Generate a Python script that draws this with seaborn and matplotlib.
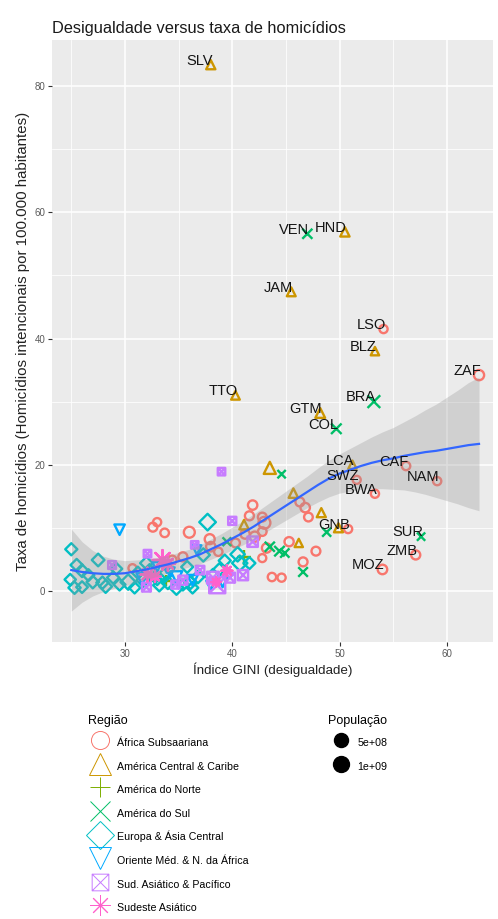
import numpy as np
import pandas as pd
import matplotlib
matplotlib.use("Agg")
import matplotlib.pyplot as plt
from matplotlib.path import Path
from matplotlib.lines import Line2D
from matplotlib.colors import PowerNorm
import seaborn as sns

# regions (legend order) and ggplot hue colours
regions = ["África Subsaariana", "América Central & Caribe", "América do Norte",
           "América do Sul", "Europa & Ásia Central", "Oriente Méd. & N. da África",
           "Sud. Asiático & Pacífico", "Sudeste Asiático"]
region_colors = ["#F8766D", "#CD9600", "#7CAE00", "#00BE67",
                 "#00BFC4", "#00A9FF", "#C77CFF", "#FF61CC"]

# countries with a text label
lab_code = ["SLV", "VEN", "HND", "JAM", "LSO", "BLZ", "ZAF", "TTO", "BRA", "GTM",
            "COL", "LCA", "CAF", "SWZ", "NAM", "BWA", "GNB", "SUR", "ZMB", "MOZ"]
lab_region = [1, 3, 1, 1, 0, 1, 0, 1, 3, 1, 3, 1, 0, 0, 0, 0, 0, 3, 0, 0]
lab_gini = [38.0, 47.0, 50.5, 45.5, 54.1, 53.3, 63.0, 40.3, 53.2, 48.2,
            49.7, 51.2, 56.2, 51.6, 59.1, 53.3, 50.8, 57.6, 57.1, 54.0]
lab_homic = [83.4, 56.6, 56.9, 47.4, 41.5, 38.0, 34.2, 31.0, 30.0, 28.2,
             25.7, 20.0, 19.8, 17.6, 17.4, 15.4, 9.8, 8.6, 5.7, 3.4]
lab_pop = [6.3e6, 31e6, 8.1e6, 2.7e6, 2.1e6, 0.36e6, 55e6, 1.4e6, 206e6, 16e6,
           48e6, 0.18e6, 4.6e6, 1.3e6, 2.4e6, 2.2e6, 1.8e6, 0.56e6, 16e6, 28e6]

# the other countries, by region
afr_gini = [46.3, 46.8, 47.1, 41.9, 41.6, 42.8, 43.0, 42.8, 40.3, 43.2, 45.3, 47.8, 46.6, 43.7,
            44.6, 33.0, 32.6, 33.7, 36.0, 37.9, 38.0, 38.7, 35.4, 34.4, 30.7, 42.8, 42.1, 41.2]
afr_homic = [14.1, 13.2, 11.7, 13.6, 11.9, 11.7, 10.8, 9.4, 7.6, 6.8, 7.8, 6.3, 4.6, 2.2,
             2.1, 10.9, 10.1, 9.2, 9.3, 8.2, 7.0, 6.2, 5.4, 4.9, 3.6, 5.2, 8.6, 9.0]
afr_pop = [12e6, 25e6, 8e6, 24e6, 14e6, 11e6, 182e6, 7e6, 10e6, 23e6, 19e6, 11e6, 13e6, 4e6,
           2e6, 1.9e6, 12e6, 6e6, 99e6, 46e6, 26e6, 4e6, 15e6, 10e6, 1.1e6, 0.9e6, 53e6, 18e6]

cac_gini = [43.5, 45.7, 48.3, 41.1, 46.2, 49.9]
cac_homic = [19.5, 15.5, 12.4, 10.5, 7.6, 10.0]
cac_pop = [125e6, 10.5e6, 4.8e6, 11e6, 0.1e6, 4e6]

nam_gini = [41.1, 33.8]
nam_homic = [5.3, 1.6]
nam_pop = [320e6, 36e6]

sam_gini = [44.6, 48.8, 39.5, 43.5, 44.4, 44.9, 46.6]
sam_homic = [18.5, 9.3, 7.8, 7.0, 6.3, 6.0, 3.0]
sam_pop = [0.8e6, 6.6e6, 3.4e6, 31e6, 43e6, 10.7e6, 17.8e6]

eca_gini = [25.0, 27.5, 25.5, 26.0, 26.6, 25.3, 26.0, 27.0, 27.9, 28.9, 29.5, 30.3, 30.9, 31.7,
            32.0, 32.3, 33.0, 33.7, 34.0, 34.8, 35.4, 36.1, 36.3, 36.8, 37.3, 37.7, 38.2, 38.8,
            39.3, 40.7, 41.6, 40.5, 29.2, 31.2, 33.2, 28.2, 35.8, 24.9]
eca_homic = [6.6, 4.9, 4.1, 3.2, 2.5, 0.5, 0.6, 1.4, 1.3, 2.1, 1.0, 1.4, 0.5, 1.7,
             4.4, 3.3, 2.1, 2.5, 1.3, 0.5, 1.0, 1.3, 0.5, 2.2, 5.7, 10.9, 2.3, 3.4,
             4.8, 4.4, 4.4, 5.8, 3.5, 2.9, 0.9, 0.7, 3.8, 1.8]
eca_pop = [4e6, 9e6, 5e6, 10e6, 2e6, 5e6, 1.3e6, 8e6, 5.5e6, 4e6, 2e6, 80e6, 0.5e6, 17e6,
           9e6, 3e6, 64e6, 46e6, 11e6, 38e6, 2e6, 10e6, 0.6e6, 8e6, 17e6, 144e6, 60e6, 6e6,
           3.7e6, 78e6, 3e6, 45e6, 1.3e6, 2.9e6, 5.4e6, 10.5e6, 2.8e6, 0.3e6]

mena_gini = [29.5, 33.0, 34.2, 34.8, 36.7, 36.3, 39.1, 33.9, 31.6, 38.0]
mena_homic = [9.7, 3.8, 3.0, 2.2, 6.5, 1.7, 1.4, 3.6, 1.9, 0.9]
mena_pop = [36e6, 11e6, 7e6, 90e6, 6e6, 40e6, 34e6, 9e6, 79e6, 4.5e6]

eap_gini = [39.0, 40.0, 32.1, 28.8, 36.5, 41.9, 38.6, 38.2, 39.8, 41.0, 35.4, 37.0, 32.0, 34.7]
eap_homic = [18.9, 11.1, 5.9, 4.1, 7.3, 7.8, 0.9, 2.1, 2.1, 2.5, 1.7, 3.3, 0.6, 1.0]
eap_pop = [0.5e6, 7e6, 0.9e6, 3e6, 0.3e6, 101e6, 1371e6, 255e6, 68e6, 91e6, 30e6, 15e6, 24e6, 6e6]

sas_gini = [33.5, 39.5, 32.1, 32.8, 38.5, 34.0]
sas_homic = [4.9, 3.2, 2.6, 2.3, 1.4, 4.3]
sas_pop = [1311e6, 21e6, 160e6, 28e6, 0.8e6, 190e6]

# loess fit with its confidence band
smooth_x = [25, 26, 27, 28, 29, 30, 31, 32, 33, 34, 35, 36, 37, 38, 39, 40, 41, 42, 43,
            44, 45, 46, 47, 48, 49, 50, 51, 52, 53, 54, 55, 56, 57, 58, 59, 60, 61, 62, 63]
smooth_y = [3.3, 3.0, 2.8, 2.7, 2.7, 2.8, 3.1, 3.4, 3.8, 4.2, 4.7, 5.2, 5.8, 6.6, 7.4, 8.3,
            9.2, 10.2, 11.3, 12.4, 13.5, 14.6, 15.7, 16.8, 17.8, 18.6, 19.2, 19.8, 20.3, 20.7,
            21.0, 21.4, 21.7, 22.0, 22.2, 22.5, 22.8, 23.1, 23.3]
smooth_se = [6.5, 4.8, 3.6, 2.8, 2.3, 2.0, 1.8, 1.6, 1.5, 1.4, 1.4, 1.4, 1.5, 1.6, 1.7, 1.8,
             1.9, 2.0, 2.1, 2.2, 2.3, 2.4, 2.5, 2.7, 2.9, 3.1, 3.4, 3.7, 4.1, 4.5, 4.9, 5.4,
             6.0, 6.7, 7.4, 8.2, 9.0, 9.9, 10.6]

x_ticks = [30, 40, 50, 60]
y_ticks = [0, 20, 40, 60, 80]

# ---- build one table ----
parts = []
for r, g, h, p in [(0, afr_gini, afr_homic, afr_pop), (1, cac_gini, cac_homic, cac_pop),
                   (2, nam_gini, nam_homic, nam_pop), (3, sam_gini, sam_homic, sam_pop),
                   (4, eca_gini, eca_homic, eca_pop), (5, mena_gini, mena_homic, mena_pop),
                   (6, eap_gini, eap_homic, eap_pop), (7, sas_gini, sas_homic, sas_pop)]:
    parts.append(pd.DataFrame({"gini": g, "homic": h, "pop": p, "region": regions[r], "code": ""}))
parts.append(pd.DataFrame({"gini": lab_gini, "homic": lab_homic, "pop": lab_pop,
                           "region": [regions[i] for i in lab_region], "code": lab_code}))
df = pd.concat(parts, ignore_index=True)

# ggplot-like shapes
sq_x = Path([(-1, -1), (1, -1), (1, 1), (-1, 1), (-1, -1), (-1, -1), (1, 1), (-1, 1), (1, -1)],
            [Path.MOVETO, Path.LINETO, Path.LINETO, Path.LINETO, Path.CLOSEPOLY,
             Path.MOVETO, Path.LINETO, Path.MOVETO, Path.LINETO])
markers = ["o", "^", "+", "x", "D", "v", sq_x, (8, 2, 0)]
line_art = [False, False, True, True, False, False, False, True]
marker_scale = [1.0, 1.15, 1.3, 1.1, 1.05, 1.15, 0.9, 1.4]
legend_msize = [13, 15.5, 15, 14, 14, 15.5, 12, 15]

size_norm = PowerNorm(gamma=0.5, vmin=0, vmax=1.4e9)
s_min, s_max = 30, 150

font = "Liberation Sans"
plt.rcParams["font.family"] = [font, "DejaVu Sans"]

fig = plt.figure(figsize=(4.98, 9.19), dpi=100)
ax = fig.add_axes([0.1044, 0.3014, 0.8855, 0.655])
ax.set_facecolor("#EBEBEB")

for i, reg in enumerate(regions):
    sub = df[df["region"] == reg]
    k = marker_scale[i]
    kw = dict(color=region_colors[i]) if line_art[i] else dict(facecolor="none", edgecolor=region_colors[i])
    sns.scatterplot(data=sub, x="gini", y="homic", size="pop", size_norm=size_norm,
                    sizes=(s_min * k, s_max * k), marker=markers[i], linewidth=1.7,
                    legend=False, ax=ax, zorder=3, **kw)

# smooth + band
lo = [y - s for y, s in zip(smooth_y, smooth_se)]
hi = [y + s for y, s in zip(smooth_y, smooth_se)]
ax.fill_between(smooth_x, lo, hi, color="#999999", alpha=0.32, linewidth=0, zorder=4)
sns.lineplot(x=smooth_x, y=smooth_y, color="#3366FF", linewidth=1.6, ax=ax, zorder=5)

lab = df[df["code"] != ""]
for _, row in lab.iterrows():
    ax.annotate(row["code"], (row["gini"], row["homic"]), xytext=(1.5, 3), textcoords="offset points",
                ha="right", va="center", fontsize=10.5, color="#141414", zorder=6)

ax.set_xlim(23.2, 64.3)
ax.set_ylim(-8.1, 87.3)
ax.set_xticks(x_ticks)
ax.set_yticks(y_ticks)
ax.set_xticks([25, 35, 45, 55], minor=True)
ax.set_yticks([10, 30, 50, 70], minor=True)
ax.grid(which="major", color="white", linewidth=1.1)
ax.grid(which="minor", color="white", linewidth=0.55)
ax.set_axisbelow(True)
for sp in ax.spines.values():
    sp.set_visible(False)
ax.tick_params(which="major", length=2.75, width=0.8, color="#333333", labelsize=7,
               labelcolor="#5A5A5A", pad=2)
ax.tick_params(which="minor", length=0)

ax.set_xlabel("Índice GINI (desigualdade)", fontsize=9.6, color="#222222", labelpad=3)
ax.set_ylabel("Taxa de homicídios (Homicídios intencionais por 100.000 habitantes)",
              fontsize=10.8, color="#222222", labelpad=3)
ax.set_title("Desigualdade versus taxa de homicídios", loc="left", fontsize=11.8,
             color="#1A1A1A", pad=5)

# legends
leg_fs = 7.7
reg_handles = []
for i, reg in enumerate(regions):
    if line_art[i]:
        h = Line2D([], [], linestyle="none", marker=markers[i], color=region_colors[i],
                   markersize=legend_msize[i], markeredgewidth=0.7)
    else:
        h = Line2D([], [], linestyle="none", marker=markers[i], markerfacecolor="none",
                   markeredgecolor=region_colors[i], markersize=legend_msize[i],
                   markeredgewidth=0.7)
    reg_handles.append(h)
leg_kw = dict(loc="upper left", frameon=False, fontsize=leg_fs, title_fontsize=9,
              alignment="left", handlelength=2.4, handleheight=2.0, labelspacing=0.66,
              handletextpad=0.38, borderpad=0, borderaxespad=0)
fig.legend(reg_handles, regions, bbox_to_anchor=(0.176, 0.2215), title="Região", **leg_kw)

pop_levels = [5e8, 1e9]
pop_handles = [Line2D([], [], linestyle="none", marker="o", color="black",
                      markersize=np.sqrt(s_min + (s_max - s_min) * float(size_norm(v))))
               for v in pop_levels]
fig.legend(pop_handles, ["5e+08", "1e+09"], bbox_to_anchor=(0.658, 0.2215), title="População",
           **leg_kw)

fig.savefig("out.png", dpi=100, facecolor="white")
